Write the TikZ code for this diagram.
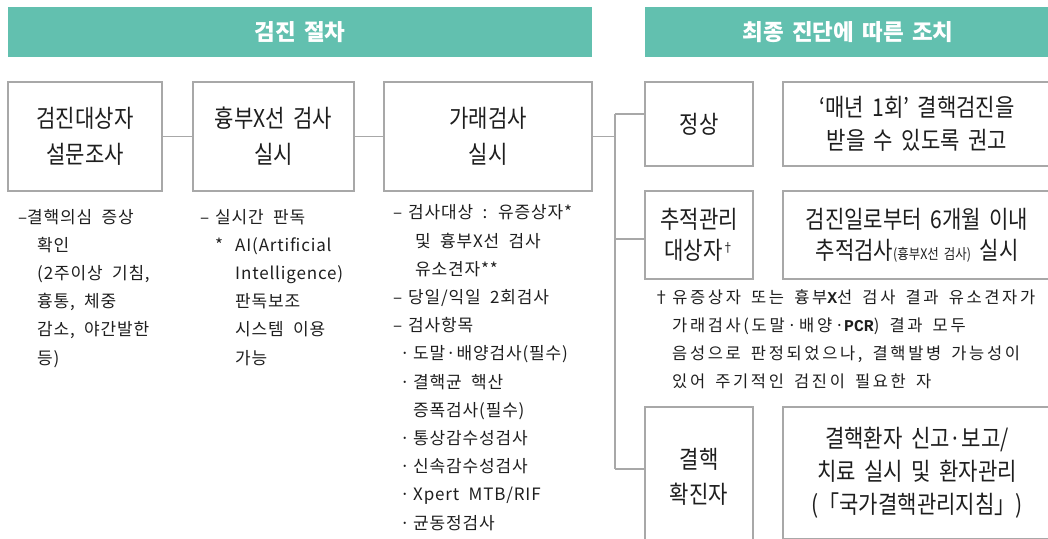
\documentclass[tikz,border=0pt]{standalone}
\usepackage{fontspec}
\setmainfont{Noto Sans CJK KR}[WordSpace=1.6]
\newfontfamily\boxfont{Noto Sans CJK KR}[FakeStretch=0.86,WordSpace=1.8]
\newfontfamily\notefont{Noto Sans CJK KR}[LetterSpace=5,WordSpace=2]
\newfontfamily\fnfont{Noto Sans CJK KR}[LetterSpace=16,WordSpace=1.6]
\newfontfamily\monob{Liberation Mono}
\definecolor{hdr}{HTML}{62C0AF}
\definecolor{bord}{HTML}{A8A8A8}
\definecolor{ink}{HTML}{1E1E1E}
\begin{document}
\begin{tikzpicture}[x=1pt,y=-1pt,
  hdrbox/.style={fill=hdr, draw=none, minimum height=50pt, inner sep=0pt, text=white, font=\fontsize{22.5}{26}\selectfont\bfseries},
  stepbox/.style={draw=bord, line width=1.6pt, inner sep=0pt, align=center, text=ink},
  conn/.style={draw=bord, line width=1.6pt},
  bigtxt/.style={font=\boxfont\fontsize{24.5}{36}\selectfont},
  midtxt/.style={font=\boxfont\fontsize{24.5}{33}\selectfont},
  notetxt/.style={anchor=base west, align=left, inner sep=0pt, text=ink, font=\notefont\fontsize{17}{28.2}\selectfont},
]
\useasboundingbox (0,0) rectangle (1048,538);
\clip (0,0) rectangle (1048,538);

% headers
\node[hdrbox, minimum width=584pt] (h1) at (300,32) {검진 절차};
\node[hdrbox, minimum width=406pt] (h2) at (848,32) {최종 진단에 따른 조치};

% step boxes
\node[stepbox, bigtxt, minimum width=154pt, minimum height=109pt] (b1) at (85,136.5) {검진대상자\\설문조사};
\node[stepbox, bigtxt, minimum width=161pt, minimum height=109pt] (b2) at (273.5,136.5) {흉부X선 검사\\실시};
\node[stepbox, bigtxt, minimum width=208pt, minimum height=109pt] (b3) at (488,136.5) {가래검사\\실시};

% outcome boxes
\node[stepbox, midtxt, minimum width=108pt, minimum height=84pt] (n1) at (699,124) {정상};
\node[stepbox, midtxt, minimum width=268pt, minimum height=84pt] (r1) at (917,124) {‘매년 1회’ 결핵검진을\\받을 수 있도록 권고};
\node[stepbox, font=\boxfont\fontsize{24.5}{31}\selectfont, minimum width=108pt, minimum height=88pt] (n2) at (699,235) {추적관리\\대상자\raisebox{7pt}{\fontsize{13}{13}\selectfont †}};
\node[stepbox, font=\boxfont\fontsize{24.5}{31}\selectfont, minimum width=268pt, minimum height=88pt] (r2) at (917,235) {검진일로부터 6개월 이내\\추적검사{\fontsize{14.5}{14.5}\selectfont (흉부X선 검사)} 실시};
\node[stepbox, font=\boxfont\fontsize{24.5}{35}\selectfont, minimum width=108pt, minimum height=140pt] (n3) at (699,477) {결핵\\확진자};
\node[stepbox, midtxt, minimum width=268pt, minimum height=132pt] (r3) at (917,473) {결핵환자 신고·보고/\\치료 실시 및 환자관리\\(「국가결핵관리지침」)};

% connectors
\coordinate (jt) at (615,114);
\coordinate (jm) at (615,239);
\coordinate (jb) at (615,469);
\draw[conn] (b1.east) -- (b2.west);
\draw[conn] (b2.east) -- (b3.west);
\draw[conn] (b3.east) -- (b3.east -| jt);
\draw[conn] (jt) -- (jb);
\draw[conn] (jt) -- (jt -| n1.west);
\draw[conn] (jm) -- (jm -| n2.west);
\draw[conn] (jb) -- (jb -| n3.west);

% notes under steps (anchored at the baseline of the last line)
\node[notetxt] (c1) at (18,364) {\makebox[9pt][l]{–}결핵의심 증상\\
\hspace*{19pt}확인\\
\hspace*{19pt}(2주이상 기침,\\
\hspace*{19pt}흉통, 체중\\
\hspace*{19pt}감소, 야간발한\\
\hspace*{19pt}등)};
\node[notetxt] (c2) at (200,364) {\makebox[15pt][l]{–}실시간 판독\\
\hspace*{15pt}\makebox[20pt][l]{*}AI(Artificial\\
\hspace*{35pt}Intelligence)\\
\hspace*{35pt}판독보조\\
\hspace*{35pt}시스템 이용\\
\hspace*{35pt}가능};
\node[notetxt] (c3) at (393,529) {\makebox[15pt][l]{–}검사대상 : 유증상자*\\
\hspace*{22pt}및 흉부X선 검사\\
\hspace*{22pt}유소견자**\\
\makebox[15pt][l]{–}당일/익일 2회검사\\
\makebox[15pt][l]{–}검사항목\\
\hspace*{7pt}\makebox[13pt][l]{·}도말·배양검사(필수)\\
\hspace*{7pt}\makebox[13pt][l]{·}결핵균 핵산\\
\hspace*{20pt}증폭검사(필수)\\
\hspace*{7pt}\makebox[13pt][l]{·}통상감수성검사\\
\hspace*{7pt}\makebox[13pt][l]{·}신속감수성검사\\
\hspace*{7pt}\makebox[13pt][l]{·}Xpert MTB/RIF\\
\hspace*{7pt}\makebox[13pt][l]{·}균동정검사};

% footnote
\node[anchor=base west, align=left, inner sep=0pt, text=ink, font=\fnfont\fontsize{16.5}{28}\selectfont] (fn) at (653,387) {†유증상자 또는 흉부{\monob\bfseries X}선 검사 결과 유소견자가\\
\hspace*{19pt}가래검사(도말·배양·{\monob\bfseries PCR}) 결과 모두\\
\hspace*{19pt}음성으로 판정되었으나, 결핵발병 가능성이\\
\hspace*{19pt}있어 주기적인 검진이 필요한 자};
\end{tikzpicture}
\end{document}
